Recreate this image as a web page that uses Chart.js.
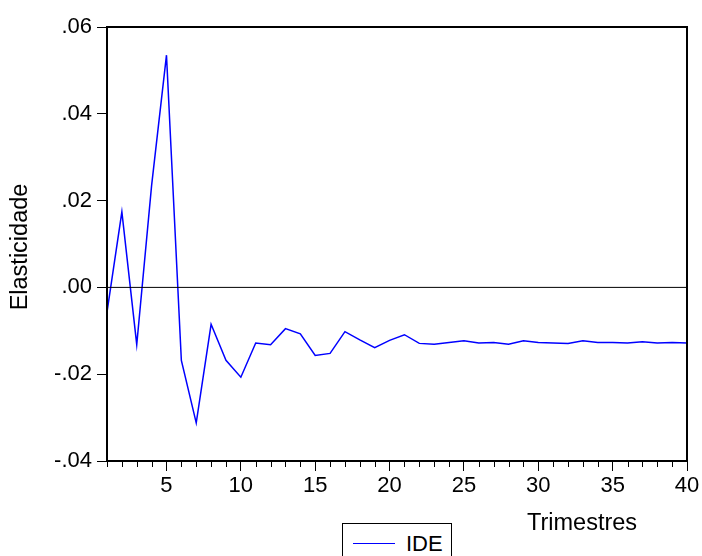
<!DOCTYPE html>
<html lang="pt">
<head>
  <meta charset="UTF-8">
  <title>IDE - Elasticidade</title>
  <script src="https://cdn.jsdelivr.net/npm/chart.js"></script>
  <style>
    body { margin: 0; background: #fff; }
    #wrap { position: relative; width: 702px; height: 556px; overflow: hidden; }
    #legend {
      position: absolute; left: 342px; top: 523px; width: 108px; height: 40px;
      border: 1px solid #000; background: #fff;
      font-family: "Liberation Sans", Arial, sans-serif; font-size: 22px;
    }
    #legend .ln { position: absolute; left: 10px; top: 19px; width: 42px; height: 1px; background: #0000ff; }
    #legend .tx { position: absolute; left: 63px; top: 7px; }
  </style>
</head>
<body>
  <div id="wrap">
    <canvas id="chart" width="702" height="556"></canvas>
    <div id="legend"><div class="ln"></div><div class="tx">IDE</div></div>
  </div>

  <script>
    // trimestres (horizonte da resposta)
    const periods = [1, 2, 3, 4, 5, 6, 7, 8, 9, 10,
                     11, 12, 13, 14, 15, 16, 17, 18, 19, 20,
                     21, 22, 23, 24, 25, 26, 27, 28, 29, 30,
                     31, 32, 33, 34, 35, 36, 37, 38, 39, 40];
    // elasticidade do IDE
    const ide = [-0.0057, 0.0174, -0.0132, 0.0235, 0.0535, -0.0168, -0.0312, -0.0085, -0.0168, -0.0207,
                 -0.0128, -0.0132, -0.0095, -0.0107, -0.0157, -0.0152, -0.0102, -0.0121, -0.0139, -0.0122,
                 -0.0109, -0.0129, -0.0131, -0.0127, -0.0123, -0.0128, -0.0127, -0.0131, -0.0123, -0.0127,
                 -0.0128, -0.0129, -0.0123, -0.0127, -0.0127, -0.0128, -0.0125, -0.0128, -0.0127, -0.0128];
    const yTicks = [-0.04, -0.02, 0, 0.02, 0.04, 0.06];

    const FONT = '"Liberation Sans", Arial, sans-serif';

    // moldura, marcas menores do eixo x e títulos dos eixos
    const frame = {
      id: 'frame',
      afterDraw(chart) {
        const { ctx, chartArea: a } = chart;
        const xs = chart.scales.x;
        ctx.save();
        ctx.strokeStyle = '#000';
        ctx.lineWidth = 1;
        periods.forEach(p => {
          if (p % 5 === 0) return;
          const px = Math.round(xs.getPixelForValue(p)) + 0.5;
          ctx.beginPath();
          ctx.moveTo(px, a.bottom);
          ctx.lineTo(px, a.bottom + 6);
          ctx.stroke();
        });
        ctx.lineWidth = 2;
        ctx.strokeRect(a.left, a.top, a.right - a.left, a.bottom - a.top);
        ctx.fillStyle = '#000';
        ctx.font = '23.5px ' + FONT;
        ctx.textAlign = 'center';
        ctx.textBaseline = 'middle';
        ctx.fillText('Trimestres', 582, 524);
        ctx.translate(21, 247);
        ctx.rotate(-Math.PI / 2);
        ctx.fillText('Elasticidade', 0, 0);
        ctx.restore();
      }
    };

    const ctx = document.getElementById('chart').getContext('2d');
    new Chart(ctx, {
      type: 'line',
      data: {
        datasets: [
          {
            label: 'zero',
            data: [{ x: periods[0], y: 0 }, { x: periods[periods.length - 1], y: 0 }],
            borderColor: '#000',
            borderWidth: 1,
            pointRadius: 0
          },
          {
            label: 'IDE',
            data: periods.map((p, i) => ({ x: p, y: ide[i] })),
            borderColor: '#0000ff',
            borderWidth: 1.5,
            pointRadius: 0,
            tension: 0
          }
        ]
      },
      options: {
        responsive: false,
        animation: false,
        layout: { padding: { left: 0, top: 27, right: 15, bottom: 0 } },
        plugins: { legend: { display: false }, tooltip: { enabled: false } },
        scales: {
          x: {
            type: 'linear',
            min: 1,
            max: 40,
            afterFit(s) { s.height = 95; },
            afterBuildTicks(s) { s.ticks = periods.map(v => ({ value: v })); },
            grid: {
              drawOnChartArea: false, drawTicks: true, tickLength: 10, lineWidth: 1,
              color: c => (c.tick && c.tick.value % 5 === 0 ? '#000' : 'rgba(0,0,0,0)')
            },
            border: { display: false },
            ticks: {
              autoSkip: false,
              maxRotation: 0,
              padding: 2,
              color: '#000',
              font: { family: FONT, size: 22 },
              callback: v => (v % 5 === 0 ? String(v) : '')
            }
          },
          y: {
            min: -0.04,
            max: 0.06,
            afterFit(s) { s.width = 107; },
            afterBuildTicks(s) { s.ticks = yTicks.map(v => ({ value: v })); },
            grid: { drawOnChartArea: false, drawTicks: true, tickLength: 10, color: '#000', lineWidth: 1 },
            border: { display: false },
            ticks: {
              padding: 5,
              color: '#000',
              font: { family: FONT, size: 22 },
              callback: v => v.toFixed(2).replace('0.', '.')
            }
          }
        }
      },
      plugins: [frame]
    });
  </script>
</body>
</html>
